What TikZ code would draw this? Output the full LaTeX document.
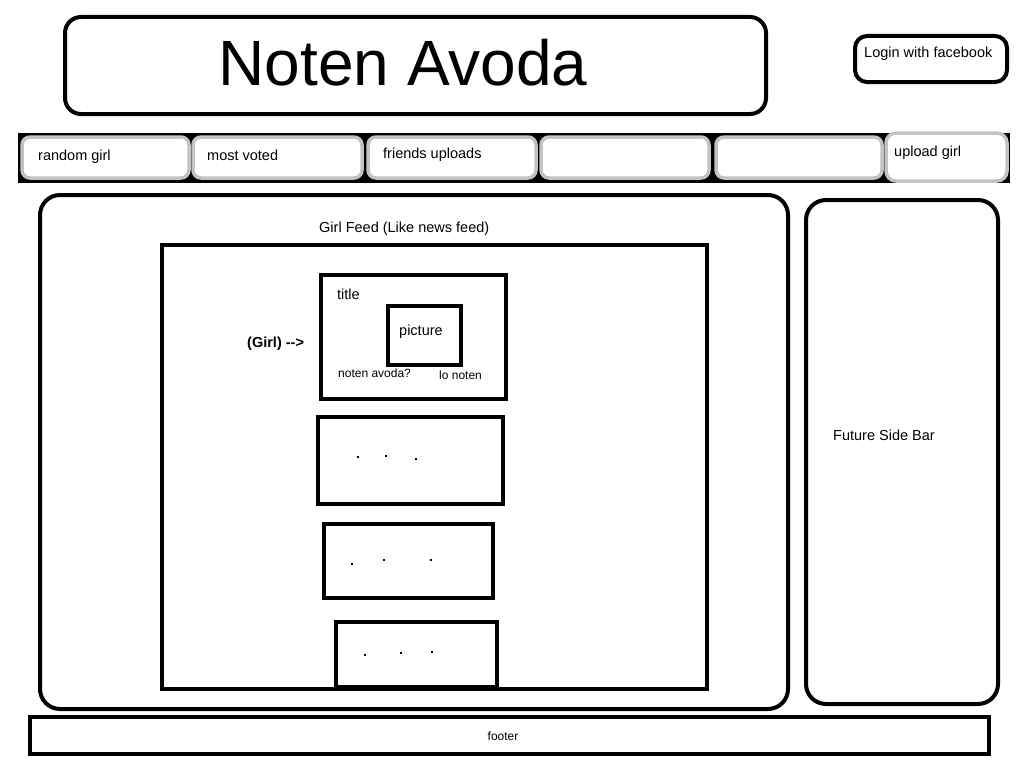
\documentclass[tikz,border=0pt]{standalone}
\usepackage{fontspec}
\setmainfont[Ligatures=NoCommon]{Liberation Sans}
\begin{document}
\begin{tikzpicture}[x=1pt,y=-1pt,
  thick box/.style={draw=black,line width=4pt},
  tab/.style={draw=tabgray,fill=white,line width=3.5pt,rounded corners=8pt},
  lbl/.style={anchor=base west,inner sep=0pt,font=\fontsize{14.5}{16}\selectfont},
  small lbl/.style={anchor=base west,inner sep=0pt,font=\fontsize{12}{14}\selectfont},
  dotmark/.style={fill=black,inner sep=0pt,minimum size=1.6pt}]
\definecolor{tabgray}{HTML}{C3C3C3}
\useasboundingbox[fill=white] (0,0) rectangle (1024,768);
% header
\draw[thick box,rounded corners=16pt] (65,17) rectangle (766,114);
\node[anchor=base,inner sep=0pt,font=\fontsize{64}{70}\selectfont] (title) at (403,85) {Noten Avoda};
\draw[thick box,rounded corners=12pt] (855,36) rectangle (1007,82);
\node[lbl] (login) at (864,57) {Login with facebook};
% nav bar
\fill[black] (18,133) rectangle (1010,183);
\draw[tab] (22,137) rectangle (189,178);
\draw[tab] (193,137) rectangle (362,178);
\draw[tab] (368,137) rectangle (536,178);
\draw[tab] (541,137) rectangle (709,178);
\draw[tab] (716,137) rectangle (882,178);
\draw[tab,rounded corners=10pt] (886,133) rectangle (1007,181);
\node[lbl] (t1) at (38,160) {random girl};
\node[lbl] (t2) at (207,160) {most voted};
\node[lbl] (t3) at (383,158) {friends uploads};
\node[lbl] (t6) at (894,156) {upload girl};
% main feed
\draw[thick box,rounded corners=20pt] (40,195) rectangle (788,709);
\node[lbl] (feed) at (319,232) {Girl Feed (Like news feed)};
\draw[thick box] (162,245) rectangle (707,689);
% card 1
\draw[thick box] (321,275) rectangle (506,399);
\node[lbl] (ctitle) at (337,299) {title};
\draw[thick box] (388,306) rectangle (461,365);
\node[lbl] (pic) at (399,335) {picture};
\node[small lbl] (yes) at (338,377) {noten avoda?};
\node[small lbl] (no) at (439,379) {lo noten};
\node[lbl,font=\bfseries\fontsize{14.5}{16}\selectfont] (girl) at (247,347) {(Girl) {-}{-}>};
% card 2
\draw[thick box] (318,417) rectangle (503,504);
\node[dotmark] (d21) at (358,457) {};
\node[dotmark] (d22) at (386,456) {};
\node[dotmark] (d23) at (416,459) {};
% card 3
\draw[thick box] (324,524) rectangle (493,598);
\node[dotmark] (d31) at (352,564) {};
\node[dotmark] (d32) at (384,560) {};
\node[dotmark] (d33) at (431,560) {};
% card 4
\draw[thick box] (336,622) rectangle (497,687);
\node[dotmark] (d41) at (365,655) {};
\node[dotmark] (d42) at (401,653) {};
\node[dotmark] (d43) at (432,652) {};
% sidebar
\draw[thick box,rounded corners=20pt] (806,200) rectangle (998,704);
\node[lbl] (side) at (833,440) {Future Side Bar};
% footer
\draw[thick box] (30,717) rectangle (989,754);
\node[anchor=base,inner sep=0pt,font=\fontsize{12}{14}\selectfont] (foot) at (503,740) {footer};
\end{tikzpicture}
\end{document}
